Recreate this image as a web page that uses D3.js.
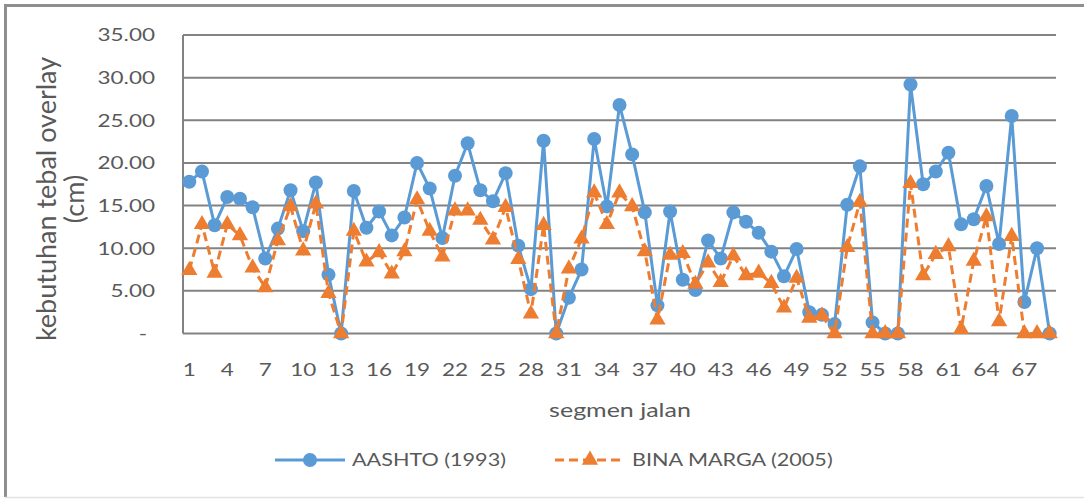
<!DOCTYPE html>
<html>
<head>
<meta charset="utf-8">
<script src="https://cdn.jsdelivr.net/npm/d3@7"></script>
<style>
  body { margin: 0; background: #fff; }
  text { font-family: Lato, "Open Sans", sans-serif; fill: #595959; }
</style>
</head>
<body>
<div id="chart"></div>
<script>
// segment numbers 1..69
const segments = [
  1, 2, 3, 4, 5, 6, 7, 8, 9, 10, 11, 12, 13, 14, 15, 16, 17, 18, 19, 20,
  21, 22, 23, 24, 25, 26, 27, 28, 29, 30, 31, 32, 33, 34, 35, 36, 37, 38, 39, 40,
  41, 42, 43, 44, 45, 46, 47, 48, 49, 50, 51, 52, 53, 54, 55, 56, 57, 58, 59, 60,
  61, 62, 63, 64, 65, 66, 67, 68, 69
];

// AASHTO (1993) overlay thickness, cm
const aashto = [
  17.8, 19.0, 12.7, 16.0, 15.8, 14.8, 8.8, 12.3, 16.8, 12.0,
  17.7, 6.9, 0, 16.7, 12.4, 14.3, 11.5, 13.6, 20.0, 17.0,
  11.2, 18.5, 22.3, 16.8, 15.5, 18.8, 10.3, 5.2, 22.6, 0,
  4.2, 7.5, 22.8, 14.9, 26.8, 21.0, 14.2, 3.3, 14.3, 6.3,
  5.1, 10.9, 8.8, 14.2, 13.1, 11.8, 9.6, 6.7, 9.9, 2.5,
  2.2, 1.1, 15.1, 19.6, 1.3, 0, 0, 29.2, 17.5, 19.0,
  21.2, 12.8, 13.4, 17.3, 10.5, 25.5, 3.7, 10.0, 0
];

// BINA MARGA (2005) overlay thickness, cm
const binaMarga = [
  7.4, 12.8, 7.1, 12.8, 11.5, 7.7, 5.4, 10.9, 14.9, 9.7,
  15.2, 4.7, 0, 12.0, 8.4, 9.5, 7.0, 9.6, 15.7, 12.0,
  9.0, 14.4, 14.4, 13.3, 11.0, 14.8, 8.7, 2.3, 12.7, 0,
  7.6, 11.1, 16.5, 12.8, 16.5, 14.9, 9.6, 1.6, 9.2, 9.4,
  5.8, 8.3, 6.0, 9.1, 6.8, 7.1, 5.9, 3.0, 6.5, 1.8,
  2.1, 0, 10.1, 15.4, 0, 0, 0, 17.6, 6.8, 9.3,
  10.2, 0.5, 8.5, 13.7, 1.4, 11.4, 0, 0, 0
];

const yTicks = [0, 5, 10, 15, 20, 25, 30, 35];
const xTickLabels = [1, 4, 7, 10, 13, 16, 19, 22, 25, 28, 31, 34, 37, 40, 43, 46, 49, 52, 55, 58, 61, 64, 67];

const seriesNames = ['AASHTO (1993)', 'BINA MARGA (2005)'];

const width = 1084;
const height = 499;
const plot = { left: 183, right: 1056, top: 35, bottom: 333.5 };
const stretch = 1.25; // text in the picture is drawn wide

const svg = d3.select('#chart').append('svg')
  .attr('width', width)
  .attr('height', height);

// outer frame (left, top, bottom only)
svg.append('path')
  .attr('d', `M${width},5.5 H5.5 V497`)
  .attr('fill', 'none')
  .attr('stroke', '#8f8f8f')
  .attr('stroke-width', 3);
svg.append('line')
  .attr('x1', 5).attr('x2', width)
  .attr('y1', 497.5).attr('y2', 497.5)
  .attr('stroke', '#e2e2e2')
  .attr('stroke-width', 1.5);

const x = d3.scalePoint()
  .domain(segments)
  .range([plot.left, plot.right])
  .padding(0.5);

const y = d3.scaleLinear()
  .domain([0, 35])
  .range([plot.bottom, plot.top]);

// gridlines
svg.append('g')
  .selectAll('line')
  .data(yTicks)
  .enter().append('line')
    .attr('x1', plot.left)
    .attr('x2', plot.right)
    .attr('y1', d => y(d))
    .attr('y2', d => y(d))
    .attr('stroke', '#828282')
    .attr('stroke-width', 2);

// left axis line
svg.append('line')
  .attr('x1', plot.left).attr('x2', plot.left)
  .attr('y1', plot.top).attr('y2', plot.bottom)
  .attr('stroke', '#828282')
  .attr('stroke-width', 2);

// y tick labels
svg.append('g')
  .selectAll('text')
  .data(yTicks)
  .enter().append('text')
    .attr('transform', d => `translate(${d === 0 ? 147 : 155},${y(d)}) scale(${stretch},1)`)
    .attr('text-anchor', 'end')
    .attr('dy', '0.35em')
    .style('font-size', '18px')
    .text(d => d === 0 ? '-' : d3.format('.2f')(d));

// x tick labels
svg.append('g')
  .selectAll('text')
  .data(xTickLabels)
  .enter().append('text')
    .attr('transform', d => `translate(${x(d)},370) scale(${stretch},1)`)
    .attr('text-anchor', 'middle')
    .attr('dy', '0.35em')
    .style('font-size', '18px')
    .text(d => d);

// axis titles
svg.append('text')
  .attr('transform', `translate(620,410) scale(${stretch},1)`)
  .attr('text-anchor', 'middle')
  .attr('dy', '0.35em')
  .style('font-size', '20px')
  .text('segmen jalan');

const yTitle = svg.append('text')
  .attr('transform', 'translate(56,199) rotate(-90)')
  .attr('text-anchor', 'middle')
  .style('font-size', '27px');
yTitle.append('tspan').attr('x', 0).attr('y', 0).text('kebutuhan tebal overlay');
yTitle.append('tspan').attr('x', 0).attr('y', 28).text('(cm)');

// lines
const blue = '#5b9bd5';
const orange = '#ed7d31';

const lineA = d3.line()
  .x((d, i) => x(segments[i]))
  .y(d => y(d));

svg.append('path')
  .datum(aashto)
  .attr('d', lineA)
  .attr('fill', 'none')
  .attr('stroke', blue)
  .attr('stroke-width', 3)
  .attr('stroke-linejoin', 'round');

svg.append('g')
  .selectAll('circle')
  .data(aashto)
  .enter().append('circle')
    .attr('cx', (d, i) => x(segments[i]))
    .attr('cy', d => y(d))
    .attr('r', 7)
    .attr('fill', blue);

svg.append('path')
  .datum(binaMarga)
  .attr('d', lineA)
  .attr('fill', 'none')
  .attr('stroke', orange)
  .attr('stroke-width', 3)
  .attr('stroke-dasharray', '9,5');

const tri = d3.symbol().type(d3.symbolTriangle).size(115);

svg.append('g')
  .selectAll('path')
  .data(binaMarga)
  .enter().append('path')
    .attr('d', tri)
    .attr('transform', (d, i) => `translate(${x(segments[i])},${y(d)})`)
    .attr('fill', orange);

// legend
const legend = svg.append('g');
const legendY = 460;

legend.append('line')
  .attr('x1', 275).attr('x2', 345)
  .attr('y1', legendY).attr('y2', legendY)
  .attr('stroke', blue).attr('stroke-width', 3);
legend.append('circle')
  .attr('cx', 310).attr('cy', legendY).attr('r', 7)
  .attr('fill', blue);
legend.append('text')
  .attr('transform', `translate(352,${legendY}) scale(1.2,1)`)
  .attr('dy', '0.35em')
  .style('font-size', '18px')
  .text(seriesNames[0]);

legend.append('line')
  .attr('x1', 555).attr('x2', 625)
  .attr('y1', legendY).attr('y2', legendY)
  .attr('stroke', orange).attr('stroke-width', 3)
  .attr('stroke-dasharray', '9,5');
legend.append('path')
  .attr('d', tri)
  .attr('transform', `translate(590,${legendY})`)
  .attr('fill', orange);
legend.append('text')
  .attr('transform', `translate(632,${legendY}) scale(1.2,1)`)
  .attr('dy', '0.35em')
  .style('font-size', '18px')
  .text(seriesNames[1]);
</script>
</body>
</html>
